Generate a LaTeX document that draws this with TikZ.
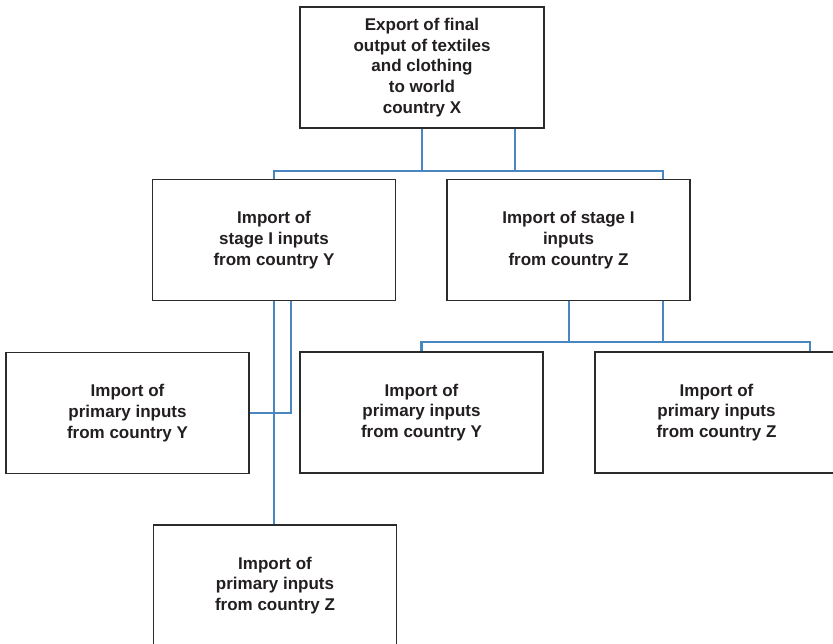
\documentclass[tikz,border=0pt]{standalone}
\usepackage{fontspec}
\setmainfont{Liberation Sans}
\definecolor{boxc}{HTML}{2B2B2B}
\definecolor{txt}{HTML}{231F20}
\definecolor{linec}{HTML}{4A86C0}
\begin{document}
\begin{tikzpicture}[x=1pt,y=-1pt,
  box/.style={draw=boxc, line width=1.3pt, fill=white, minimum width=243pt, minimum height=121pt,
    align=center, font=\fontsize{17}{20.7}\selectfont\bfseries, text=txt, inner sep=0pt},
  conn/.style={draw=linec, line width=2.9pt}]
\useasboundingbox (0,0) rectangle (833,643);
\clip (0,0) rectangle (833,643);
% boxes (positions)
\path (422,67.5) node[box, minimum width=244pt] (top) {};
\path (274,240) node[box] (midL) {};
\path (568.5,240) node[box] (midR) {};
\path (127.5,413) node[box] (leftB) {};
\path (421.5,412.5) node[box] (midB) {};
\path (716.5,412.5) node[box] (rightB) {};
\path (275,585.5) node[box] (botB) {};
% connector coordinates
\coordinate (h1) at (422,171);
\coordinate (h2) at (515,171);
\coordinate (r1) at (663,171);
\coordinate (g1) at (569,342);
\coordinate (g2) at (663,342);
\coordinate (gr) at (810,342);
\coordinate (v1) at (291,413);
% connectors
\draw[conn] (top.south -| h1) -- (h1) -| (midL.north);
\draw[conn] (top.south -| h2) -- (h2) -- (r1) -- (r1 |- midR.north);
\draw[conn] (h1) -- (h2);
\draw[conn] (midR.south -| g1) -- (g1);
\draw[conn] (midR.south -| g2) -- (g2);
\draw[conn] (midB.north) |- (gr) -- (gr |- rightB.north);
\draw[conn] (midL.south -| v1) |- (leftB.east);
\draw[conn] (midL.south) -- (midL.south |- botB.north);
% boxes drawn over connector ends
\node[box, minimum width=244pt] at (top) {Export of final\\output of textiles\\and clothing\\to world\\country X};
\node[box] at (midL) {Import of\\stage I inputs\\from country Y};
\node[box] at (midR) {Import of stage I\\inputs\\from country Z};
\node[box] at (leftB) {Import of\\primary inputs\\from country Y};
\node[box] at (midB) {Import of\\primary inputs\\from country Y};
\node[box] at (rightB) {Import of\\primary inputs\\from country Z};
\node[box] at (botB) {Import of\\primary inputs\\from country Z};
\end{tikzpicture}
\end{document}
